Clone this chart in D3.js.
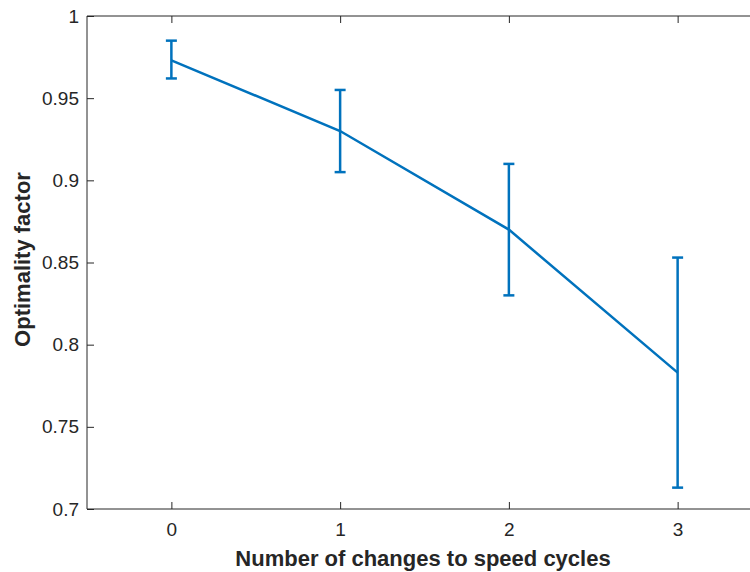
<!DOCTYPE html>
<html><head><meta charset="utf-8">
<script src="https://cdn.jsdelivr.net/npm/d3@7"></script>
<style>body{margin:0;background:#fff}svg{display:block}</style>
</head><body>
<script>
const categories = [0, 1, 2, 3];
const means = [0.973, 0.930, 0.870, 0.783];
const upper = [0.985, 0.955, 0.910, 0.853];
const lower = [0.962, 0.905, 0.830, 0.713];
const yTicks = [0.7, 0.75, 0.8, 0.85, 0.9, 0.95, 1];
const yTickLabels = ["0.7", "0.75", "0.8", "0.85", "0.9", "0.95", "1"];
const xTicks = [0, 1, 2, 3];

const W = 750, H = 572;
const m = {left: 87, top: 16, right: -12, bottom: 63};
const svg = d3.select("body").append("svg").attr("width", W).attr("height", H);
const x = d3.scaleLinear().domain([-0.5, 3.5]).range([m.left, W - m.right]);
const y = d3.scaleLinear().domain([0.7, 1]).range([H - m.bottom, m.top]);
const ink = "#262626", blue = "#0072BD";
const font = "Arial, 'Liberation Sans', Helvetica, sans-serif";

// box lines
svg.append("line").attr("x1", m.left).attr("x2", W - m.right).attr("y1", y(0.7)).attr("y2", y(0.7)).attr("stroke", ink).attr("stroke-width", 1);
svg.append("line").attr("x1", m.left).attr("x2", W - m.right).attr("y1", y(1)).attr("y2", y(1)).attr("stroke", ink).attr("stroke-width", 1);
svg.append("line").attr("x1", m.left).attr("x2", m.left).attr("y1", y(0.7)).attr("y2", y(1)).attr("stroke", ink).attr("stroke-width", 1);

const xAxis = svg.append("g").attr("transform", `translate(0,${y(0.7)})`)
  .call(d3.axisBottom(x).tickValues(xTicks).tickSize(-7).tickPadding(14).tickFormat(d3.format("d")));
const xTop = svg.append("g").attr("transform", `translate(0,${y(1)})`)
  .call(d3.axisTop(x).tickValues(xTicks).tickSize(-7).tickFormat(""));
const yAxis = svg.append("g").attr("transform", `translate(${m.left},0)`)
  .call(d3.axisLeft(y).tickValues(yTicks).tickSize(-7).tickPadding(8).tickFormat((d, i) => yTickLabels[i]));
[xAxis, xTop, yAxis].forEach(g => {
  g.select(".domain").remove();
  g.selectAll(".tick line").attr("stroke", ink);
  g.selectAll("text").attr("fill", ink).style("font-family", font).style("font-size", "19px");
});

// line
svg.append("path").datum(categories)
  .attr("d", d3.line().x(d => x(d)).y((d, i) => y(means[i])))
  .attr("fill", "none").attr("stroke", blue).attr("stroke-width", 2.5);

// error bars
const cap = 5.5;
const eb = svg.append("g").attr("stroke", blue).attr("stroke-width", 2.5).attr("fill", "none");
categories.forEach((c, i) => {
  eb.append("line").attr("x1", x(c)).attr("x2", x(c)).attr("y1", y(upper[i])).attr("y2", y(lower[i]));
  eb.append("line").attr("x1", x(c) - cap).attr("x2", x(c) + cap).attr("y1", y(upper[i])).attr("y2", y(upper[i]));
  eb.append("line").attr("x1", x(c) - cap).attr("x2", x(c) + cap).attr("y1", y(lower[i])).attr("y2", y(lower[i]));
});

svg.append("text").attr("x", 423).attr("y", 566).attr("text-anchor", "middle")
  .attr("fill", ink).style("font-family", font).style("font-size", "22px").style("font-weight", "bold")
  .text("Number of changes to speed cycles");
svg.append("text").attr("transform", `translate(30,${(y(0.7) + y(1)) / 2 - 3}) rotate(-90)`).attr("text-anchor", "middle")
  .attr("fill", ink).style("font-family", font).style("font-size", "22px").style("font-weight", "bold")
  .text("Optimality factor");
</script>
</body></html>
